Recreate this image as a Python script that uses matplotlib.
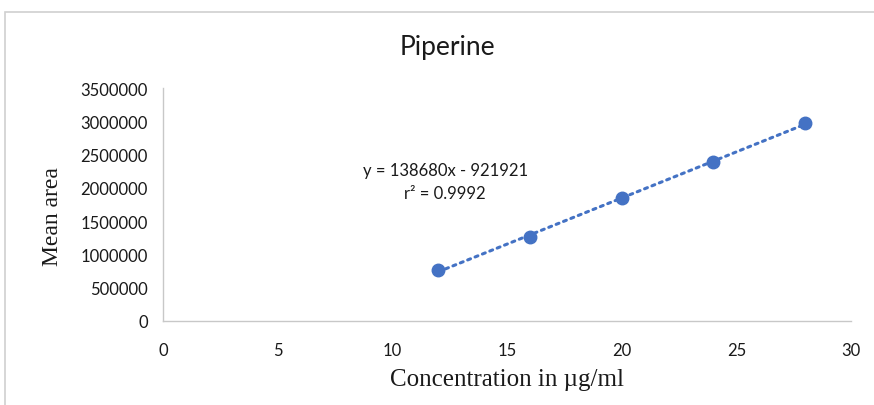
import numpy as np
import matplotlib
matplotlib.use("Agg")
import matplotlib.pyplot as plt
from matplotlib.patches import Rectangle

# Data
concentration = [12, 16, 20, 24, 28]
mean_area = [766000, 1262000, 1847000, 2388000, 2974000]
x_ticks = [0, 5, 10, 15, 20, 25, 30]
y_ticks = [0, 500000, 1000000, 1500000, 2000000, 2500000, 3000000, 3500000]
title = "Piperine"
x_label = "Concentration in µg/ml"
y_label = "Mean area"
equation = "y = 138680x - 921921"
r2_text = "r² = 0.9992"

blue = "#4472C4"

fig = plt.figure(figsize=(8.74, 4.06), dpi=100)
# Chart border
fig.patches.append(Rectangle((5/874, -0.1), 1.1, (406-13)/406 + 0.1, transform=fig.transFigure,
                             fill=False, edgecolor="#d0d0d0", linewidth=1.2))

ax = fig.add_axes([163/874, (406-322)/406, (851-163)/874, (322-89)/406])

coef = np.polyfit(concentration, mean_area, 1)
xs = np.array([concentration[0], concentration[-1]])
ax.plot(xs, np.polyval(coef, xs), linestyle=(0, (1, 1.6)), linewidth=2.2,
        color=blue, dash_capstyle="round", zorder=2)
ax.plot(concentration, mean_area, "o", color=blue, markersize=9, zorder=3)

ax.set_xlim(0, 30)
ax.set_ylim(0, 3500000)
ax.set_xticks(x_ticks)
ax.set_yticks(y_ticks)
ax.set_xticklabels([str(v) for v in x_ticks], family="Lato", fontsize=12)
ax.set_yticklabels([str(v) for v in y_ticks], family="Lato", fontsize=12)
ax.tick_params(axis="x", length=0, pad=15, colors="#1a1a1a")
ax.tick_params(axis="y", length=0, pad=11, colors="#1a1a1a")
for s in ["top", "right"]:
    ax.spines[s].set_visible(False)
for s in ["left", "bottom"]:
    ax.spines[s].set_color("#c8c8c8")
    ax.spines[s].set_linewidth(1)

fig.text(447/874, 1 - 47/406, title, ha="center", va="center", family="Lato", fontsize=19, color="#1a1a1a")
fig.text(507/874, 1 - 380/406, x_label, ha="center", va="center", family="Liberation Serif", fontsize=18, color="#1a1a1a")
fig.text(52/874, 1 - 217/406, y_label, ha="center", va="center", rotation=90, family="Liberation Serif", fontsize=17, color="#1a1a1a")
ax.text(12.3, 2270000, equation, ha="center", va="center", family="Lato", fontsize=12, color="#1a1a1a")
ax.text(12.3, 1930000, r2_text, ha="center", va="center", family="Lato", fontsize=12, color="#1a1a1a")

fig.savefig("out.png", dpi=100)
